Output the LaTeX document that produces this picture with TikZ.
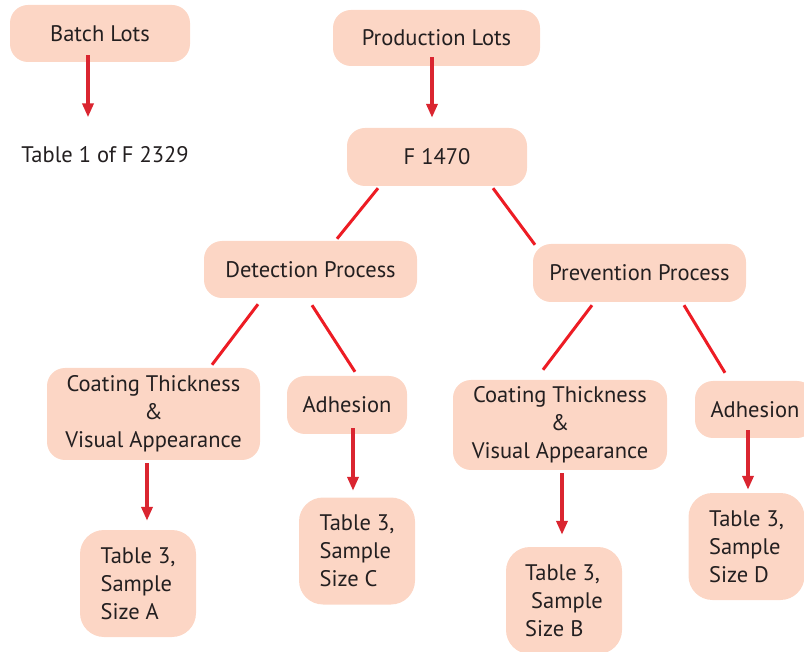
\documentclass[tikz,border=0pt]{standalone}
\usepackage{fontspec}
\setmainfont{PT Sans}
\usepackage{xcolor}
\usepackage{tikz}
\usetikzlibrary{arrows.meta}
\definecolor{peach}{RGB}{252,214,197}
\definecolor{arrowred}{RGB}{218,37,48}
\definecolor{linkred}{RGB}{237,28,36}
\definecolor{textgray}{RGB}{35,31,32}
\tikzset{
    lot/.style={rectangle, rounded corners=18pt, fill=peach, text=textgray, text centered, align=center, font=\fontsize{22.5}{28}\selectfont},
    sizebox/.style={rectangle, rounded corners=24pt, fill=peach, text=textgray, align=left, minimum width=116pt, minimum height=107pt, font=\fontsize{22.5}{28}\selectfont},
    plain/.style={text=textgray, font=\fontsize{22.5}{28}\selectfont},
    flow/.style={-{Triangle[length=14pt, width=11pt]}, line width=3.5pt, arrowred},
    link/.style={line width=3pt, linkred}
}
\begin{document}
\begin{tikzpicture}[x=1pt, y=-1pt]
    \useasboundingbox (0,0) rectangle (804,652);

    % Lots
    \node[lot, minimum width=180pt, minimum height=57pt] (batch) at (100,33.5) {Batch Lots};
    \node[plain] (table1) at (105,155) {Table 1 of F 2329};
    \node[lot, minimum width=207pt, minimum height=56pt] (production) at (436.5,38) {Production Lots};
    \node[lot, minimum width=180pt, minimum height=58pt] (f1470) at (437,157) {F 1470};

    % Processes
    \node[lot, minimum width=213pt, minimum height=57pt] (detection) at (310.5,269.5) {Detection Process};
    \node[lot, minimum width=213pt, minimum height=58pt] (prevention) at (639.5,273) {Prevention Process};

    % Checks
    \node[lot, minimum width=213pt, minimum height=92pt] (coatdet) at (153.5,414) {Coating Thickness\\ \&\\ Visual Appearance};
    \node[lot, minimum width=120pt, minimum height=58pt] (adhdet) at (347,405) {Adhesion};
    \node[lot, minimum width=214pt, minimum height=90pt] (coatprev) at (560,425) {Coating Thickness\\ \&\\ Visual Appearance};
    \node[lot, minimum width=120pt, minimum height=57pt] (adhprev) at (755,409.5) {Adhesion};

    % Sample sizes
    \node[sizebox] (sizea) at (138,583.5) {Table 3,\\ Sample\\ Size A};
    \node[sizebox] (sizec) at (357,551) {Table 3,\\ Sample\\ Size C};
    \node[sizebox] (sizeb) at (564,600.5) {Table 3,\\ \ Sample\\ Size B};
    \node[sizebox] (sized) at (746.5,546.5) {Table 3,\\ Sample\\ Size D};

    % Flows down
    \draw[flow] ([xshift=-12pt, yshift=7pt]batch.south) -- ([xshift=-17pt, yshift=26pt]table1.north);
    \draw[flow] ([xshift=-4.5pt, yshift=9pt]production.south) -- ([xshift=-5pt, yshift=10pt]f1470.north);

    % Branches
    \draw[link] ([xshift=-59pt, yshift=-2pt]f1470.south) -- ([xshift=26.5pt, yshift=2pt]detection.north);
    \draw[link] ([xshift=56pt, yshift=-2pt]f1470.south) -- ([xshift=-104.5pt, yshift=-1pt]prevention.north);
    \draw[link] ([xshift=-52.5pt, yshift=-6pt]detection.south) -- ([xshift=58.5pt, yshift=3pt]coatdet.north);
    \draw[link] ([xshift=1.5pt, yshift=-7pt]detection.south) -- ([xshift=8pt, yshift=4pt]adhdet.north);
    \draw[link] ([xshift=-47.5pt, yshift=-3pt]prevention.south) -- ([xshift=-17pt, yshift=10pt]coatprev.north);
    \draw[link] ([xshift=44.5pt, yshift=-3pt]prevention.south) -- ([xshift=-30pt, yshift=8pt]adhprev.north);

    % Flows to sample sizes
    \draw[flow] ([xshift=-6.5pt, yshift=-3pt]coatdet.south) -- ([xshift=9pt, yshift=9pt]sizea.north);
    \draw[flow] ([xshift=6pt, yshift=6pt]adhdet.south) -- ([xshift=-4pt, yshift=6.5pt]sizec.north);
    \draw[flow] ([xshift=2pt, yshift=-3pt]coatprev.south) -- ([xshift=-2pt, yshift=12pt]sizeb.north);
    \draw[flow] ([xshift=-7pt, yshift=8pt]adhprev.south) -- ([xshift=1.5pt, yshift=3pt]sized.north);
\end{tikzpicture}
\end{document}
